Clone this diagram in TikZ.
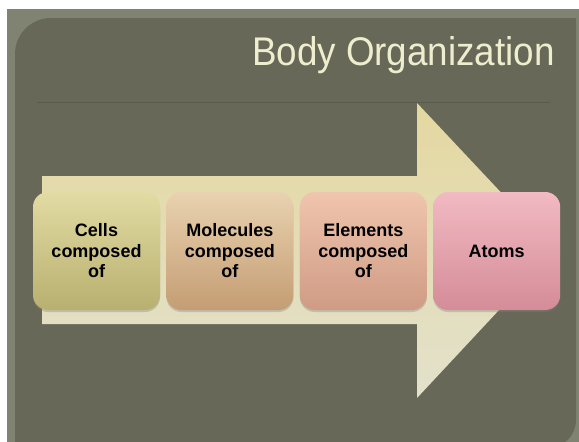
\documentclass[tikz,border=0pt]{standalone}
\usepackage{fontspec}
\setmainfont{Liberation Sans}
\newfontfamily\titlefont[FakeStretch=0.92]{Liberation Sans}
\usetikzlibrary{positioning,shadows}
\definecolor{FrameGray}{RGB}{128,130,114}
\definecolor{PanelGray}{RGB}{103,104,88}
\definecolor{RuleGray}{RGB}{90,91,76}
\definecolor{TitleCream}{RGB}{238,238,207}
\definecolor{ArrowTop}{RGB}{228,216,160}
\definecolor{ArrowBottom}{RGB}{227,225,204}
\definecolor{CellsTop}{RGB}{226,219,163}
\definecolor{CellsBottom}{RGB}{184,176,111}
\definecolor{MolTop}{RGB}{233,210,176}
\definecolor{MolBottom}{RGB}{196,157,115}
\definecolor{ElemTop}{RGB}{240,197,173}
\definecolor{ElemBottom}{RGB}{207,155,133}
\definecolor{AtomTop}{RGB}{242,186,194}
\definecolor{AtomBottom}{RGB}{212,140,153}

\begin{document}
\begin{tikzpicture}[x=1pt, y=-1pt, node distance=6pt,
  stage/.style={rounded corners=15pt, minimum width=127pt, minimum height=118pt,
    inner sep=0pt, align=center, text=black,
    font=\fontsize{18}{20.5}\selectfont\bfseries,
    drop shadow={shadow xshift=0pt, shadow yshift=-2pt, opacity=0.35}}]
\useasboundingbox (0,0) rectangle (579,442);
\clip (0,0) rectangle (579,442);
% slide background
\fill[white] (0,0) rectangle (579,442);
\fill[FrameGray] (7,9) rectangle (579,442);
\fill[PanelGray] (15,470) {[rounded corners=36pt] -- (15,18)} -- (576,18)
  {[rounded corners=28pt] -- (576,448)} -- (15,448) -- cycle;
\draw[RuleGray, line width=1pt] (37,102.5) -- (550,102.5);
\node[anchor=base east, text=TitleCream, inner sep=0pt,
  font=\titlefont\fontsize{40}{40}\selectfont] (title) at (555,65) {Body Organization};
% big arrow behind the boxes
\shade[top color=ArrowTop, bottom color=ArrowBottom]
  (42,176) -- (417,176) -- (417,103) -- (555,250) -- (417,398) -- (417,324) -- (42,324) -- cycle;
% the four steps
\node[stage, top color=CellsTop, bottom color=CellsBottom] (cells) at (96.5,251) {Cells\\composed\\of};
\node[stage, top color=MolTop, bottom color=MolBottom, right=of cells] (molecules) {Molecules\\composed\\of};
\node[stage, top color=ElemTop, bottom color=ElemBottom, right=of molecules] (elements) {Elements\\composed\\of};
\node[stage, top color=AtomTop, bottom color=AtomBottom, right=of elements] (atoms) {Atoms};
\end{tikzpicture}
\end{document}
